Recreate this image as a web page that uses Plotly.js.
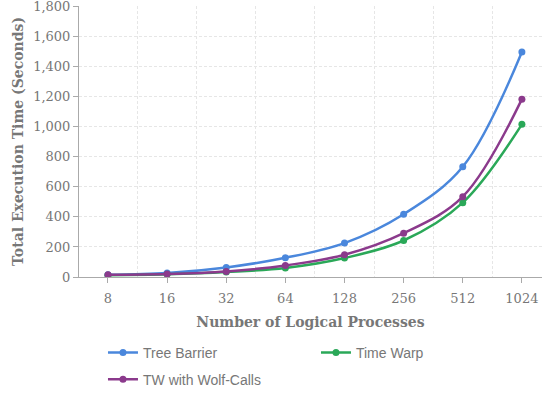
<!DOCTYPE html>
<html>
<head>
<meta charset="utf-8">
<script src="https://cdn.plot.ly/plotly-3.0.1.min.js"></script>
<style>html,body{margin:0;padding:0;background:#fff}#chart{width:542px;height:394px}</style>
</head>
<body>
<div id="chart"></div>
<script>
const categories = [8, 16, 32, 64, 128, 256, 512, 1024];
const tickLabels = ["8", "16", "32", "64", "128", "256", "512", "1024"];
const treeBarrier = [15, 27, 64, 128, 226, 418, 734, 1498];
const timeWarp = [12, 18, 33, 60, 126, 243, 495, 1016];
const twWolfCalls = [15, 20, 37, 77, 148, 292, 535, 1184];

const midpoints = categories.slice(0, -1).map(c => c * Math.SQRT2);
const L2 = Math.log10(2);

function series(name, y, color, legend) {
  return {
    type: 'scatter', mode: 'lines+markers', name: name,
    x: categories, y: y, legend: legend,
    line: {color: color, width: 2.5, shape: 'spline', smoothing: 1},
    marker: {color: color, size: 7}
  };
}

const data = [
  series('Tree Barrier', treeBarrier, '#4a87dc', 'legend'),
  series('Time Warp', timeWarp, '#2aa858', 'legend'),
  series('TW with Wolf-Calls', twWolfCalls, '#8b3a8c', 'legend2')
];

const serif = 'DejaVu Serif';
const legendFont = {family: 'Liberation Sans', size: 14, color: '#777'};
const layout = {
  width: 542, height: 394,
  margin: {l: 79, r: 0, t: 6, b: 117},
  paper_bgcolor: '#fff', plot_bgcolor: '#fff',
  showlegend: true,
  hovermode: false,
  xaxis: {
    type: 'log',
    range: [Math.log10(8) - 0.49 * L2, Math.log10(1024) + 0.34 * L2],
    tickmode: 'array', tickvals: categories, ticktext: tickLabels,
    showgrid: false,
    ticks: 'outside', ticklen: 5, tickcolor: '#aaa',
    ticklabelstandoff: 4,
    showline: true, linecolor: '#aaa', linewidth: 1,
    tickfont: {family: serif, size: 13, color: '#777'},
    minor: {tickvals: midpoints, showgrid: true, gridcolor: '#e6e6e6', griddash: '3px,2px', gridwidth: 1, ticks: ''},
    title: {text: 'Number of Logical Processes', font: {family: serif, size: 14, color: '#777', weight: 'bold'}, standoff: 12},
    zeroline: false,
    automargin: false
  },
  yaxis: {
    range: [0, 1804], tickmode: 'linear', tick0: 0, dtick: 200, tickformat: ',d',
    showgrid: true, gridcolor: '#e6e6e6', griddash: '3px,2px',
    ticks: 'outside', ticklen: 5, tickcolor: '#aaa',
    ticklabeloverflow: 'allow',
    showline: true, linecolor: '#aaa', linewidth: 1,
    tickfont: {family: serif, size: 13, color: '#777'},
    title: {text: 'Total Execution Time (Seconds)', font: {family: serif, size: 14, color: '#777', weight: 'bold'}, standoff: 6},
    zeroline: false,
    automargin: false
  },
  legend: {
    orientation: 'h', xref: 'container', yref: 'container',
    x: 0.19, y: 0.145, xanchor: 'left', yanchor: 'top',
    entrywidth: 168, entrywidthmode: 'pixels',
    font: legendFont
  },
  legend2: {
    orientation: 'h', xref: 'container', yref: 'container',
    x: 0.19, y: 0.077, xanchor: 'left', yanchor: 'top',
    font: legendFont
  }
};

Plotly.newPlot('chart', data, layout, {displayModeBar: false, staticPlot: true});
</script>
</body>
</html>
